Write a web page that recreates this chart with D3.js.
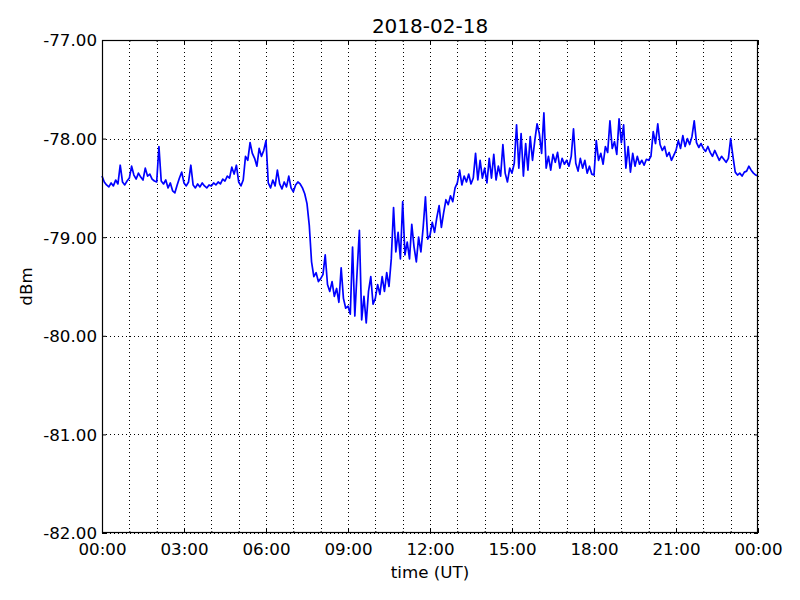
<!DOCTYPE html>
<html>
<head>
<meta charset="utf-8">
<script src="https://cdn.jsdelivr.net/npm/d3@7"></script>
<style>
  body { margin: 0; background: #fff; }
  text { font-family: "DejaVu Sans", sans-serif; fill: #000; }
</style>
</head>
<body>
<script>
// chart text
var title = "2018-02-18";
var xLabel = "time (UT)";
var yLabel = "dBm";

// y ticks and x tick labels (every 3 hours)
var yTicks = [-82, -81, -80, -79, -78, -77];
var xTickLabels = ["00:00", "03:00", "06:00", "09:00", "12:00", "15:00", "18:00", "21:00", "00:00"];

// signal level in dBm, one reading every 5 minutes from 00:00 UT
var startTime = new Date(Date.UTC(2018, 1, 18, 0, 0));
var stepMinutes = 5;
var dbm = [
  -78.38, -78.44, -78.47, -78.49, -78.45, -78.48, -78.42, -78.46, -78.27, -78.44, -78.47, -78.43,
  -78.40, -78.28, -78.37, -78.41, -78.35, -78.39, -78.42, -78.30, -78.38, -78.36, -78.41, -78.43,
  -78.44, -78.08, -78.43, -78.46, -78.42, -78.50, -78.45, -78.53, -78.55, -78.47, -78.40, -78.34,
  -78.45, -78.48, -78.44, -78.27, -78.47, -78.50, -78.46, -78.49, -78.45, -78.48, -78.50, -78.47,
  -78.48, -78.45, -78.47, -78.44, -78.46, -78.41, -78.43, -78.38, -78.40, -78.29, -78.36, -78.27,
  -78.44, -78.48, -78.42, -78.18, -78.22, -78.04, -78.15, -78.20, -78.28, -78.10, -78.18, -78.12,
  -78.02, -78.45, -78.50, -78.42, -78.48, -78.32, -78.46, -78.51, -78.44, -78.49, -78.38, -78.50,
  -78.54, -78.47, -78.44, -78.46, -78.50, -78.56, -78.66, -78.88, -79.25, -79.40, -79.36, -79.45,
  -79.42, -79.38, -79.18, -79.48, -79.55, -79.45, -79.60, -79.52, -79.66, -79.31, -79.62, -79.72,
  -79.70, -79.78, -79.10, -79.80, -79.35, -78.93, -79.84, -79.60, -79.87, -79.55, -79.40, -79.68,
  -79.62, -79.48, -79.58, -79.40, -79.55, -79.36, -79.50, -79.22, -78.70, -79.15, -78.95, -79.22,
  -78.64, -79.18, -79.05, -79.22, -78.87, -79.10, -79.25, -79.00, -79.15, -78.90, -78.59, -79.02,
  -78.98, -78.85, -78.95, -78.80, -78.68, -78.90, -78.75, -78.62, -78.67, -78.58, -78.64, -78.50,
  -78.45, -78.32, -78.47, -78.38, -78.44, -78.36, -78.46, -78.40, -78.15, -78.42, -78.22, -78.40,
  -78.30, -78.45, -78.20, -78.40, -78.16, -78.42, -78.28, -78.38, -78.06, -78.35, -78.44, -78.30,
  -78.35, -78.25, -77.86, -78.30, -77.95, -78.38, -78.05, -78.32, -77.98, -78.22, -78.02, -77.85,
  -77.95, -78.15, -77.74, -78.30, -78.18, -78.32, -78.16, -78.24, -78.14, -78.30, -78.20, -78.26,
  -78.22, -78.28, -78.18, -77.90, -78.25, -78.33, -78.20, -78.30, -78.22, -78.35, -78.28, -78.36,
  -78.37, -78.02, -78.22, -78.15, -78.26, -78.08, -78.14, -77.82, -78.10, -78.03, -78.16, -77.80,
  -78.04, -77.86, -78.30, -78.08, -78.34, -78.15, -78.28, -78.18, -78.26, -78.22, -78.27, -78.21,
  -78.22, -78.18, -77.93, -78.05, -77.85, -78.06, -78.12, -78.08, -78.18, -78.14, -78.22, -78.17,
  -78.12, -78.02, -78.10, -77.97, -78.08, -78.00, -78.06, -77.98, -77.82, -78.04, -78.09, -78.05,
  -78.10, -78.13, -78.08, -78.14, -78.18, -78.12, -78.17, -78.22, -78.18, -78.21, -78.24, -78.20,
  -78.00, -78.18, -78.34, -78.37, -78.35, -78.38, -78.34, -78.33, -78.28, -78.32, -78.35, -78.37,
  -78.38
];

var data = dbm.map((v, i) => ({
  date: new Date(startTime.getTime() + i * stepMinutes * 60000),
  value: v,
}));

var margin = { top: 40, left: 102, bottom: 67, right: 42 };
var width = 800 - margin.left - margin.right;
var height = 600 - margin.top - margin.bottom;

var endTime = new Date(startTime.getTime() + 24 * 3600000);
var x = d3.scaleUtc().domain([startTime, endTime]).range([0, width]);
var y = d3.scaleLinear().domain([-82, -77]).range([height, 0]);

var hourTicks = d3.utcHour.every(1).range(startTime, new Date(endTime.getTime() + 1));
var majorTicks = d3.utcHour.every(3).range(startTime, new Date(endTime.getTime() + 1));

var svg = d3.select("body").append("svg")
  .attr("width", 800)
  .attr("height", 600);

svg.append("rect").attr("width", 800).attr("height", 600).attr("fill", "#fff");

var chart = svg.append("g")
  .attr("transform", `translate(${margin.left},${margin.top})`);

// dotted grid: every hour on x, every dBm on y
chart.append("g")
  .selectAll("line")
  .data(hourTicks)
  .join("line")
  .attr("x1", (d) => Math.round(x(d)) + 0.5)
  .attr("x2", (d) => Math.round(x(d)) + 0.5)
  .attr("y1", 0)
  .attr("y2", height)
  .attr("stroke", "#000")
  .attr("stroke-width", 1)
  .attr("stroke-dasharray", "1,3");

chart.append("g")
  .selectAll("line")
  .data(yTicks)
  .join("line")
  .attr("x1", 0)
  .attr("x2", width)
  .attr("y1", (d) => Math.round(y(d)) + 0.5)
  .attr("y2", (d) => Math.round(y(d)) + 0.5)
  .attr("stroke", "#000")
  .attr("stroke-width", 1)
  .attr("stroke-dasharray", "1,3");

// the signal line
var line = d3.line()
  .x((d) => x(d.date))
  .y((d) => y(d.value));

chart.append("path")
  .datum(data)
  .attr("fill", "none")
  .attr("stroke", "#0000ff")
  .attr("stroke-width", 1.7)
  .attr("stroke-linejoin", "round")
  .attr("d", line);

// axes with inward ticks, on all four sides
var fmt = (d, i) => xTickLabels[i];
var yFmt = (d) => d.toFixed(2); // plain hyphen, like the original

var bottom = chart.append("g")
  .attr("transform", `translate(0,${height})`)
  .call(d3.axisBottom(x).tickValues(majorTicks).tickFormat(fmt).tickSizeInner(-4).tickSizeOuter(0).tickPadding(10));
chart.append("g")
  .attr("transform", `translate(0,${height})`)
  .call(d3.axisBottom(x).tickValues(hourTicks).tickFormat("").tickSizeInner(-2).tickSizeOuter(0));
chart.append("g")
  .call(d3.axisTop(x).tickValues(majorTicks).tickFormat("").tickSizeInner(-4).tickSizeOuter(0));
chart.append("g")
  .call(d3.axisTop(x).tickValues(hourTicks).tickFormat("").tickSizeInner(-2).tickSizeOuter(0));

var left = chart.append("g")
  .call(d3.axisLeft(y).tickValues(yTicks).tickFormat(yFmt).tickSizeInner(-4).tickSizeOuter(0).tickPadding(5));
chart.append("g")
  .attr("transform", `translate(${width},0)`)
  .call(d3.axisRight(y).tickValues(yTicks).tickFormat("").tickSizeInner(-4).tickSizeOuter(0));

chart.selectAll(".domain").remove();
chart.selectAll(".tick line").attr("stroke", "#000");
bottom.selectAll("text").attr("font-size", 16.7).attr("font-family", "DejaVu Sans");
left.selectAll("text").attr("font-size", 16.7).attr("font-family", "DejaVu Sans").attr("dy", "0.35em");

// frame
chart.append("rect")
  .attr("x", 0.5)
  .attr("y", 0.5)
  .attr("width", width - 1)
  .attr("height", height - 1)
  .attr("fill", "none")
  .attr("stroke", "#000")
  .attr("stroke-width", 1.2);

// title and labels
svg.append("text")
  .attr("x", margin.left + width / 2)
  .attr("y", 33)
  .attr("text-anchor", "middle")
  .attr("font-size", 20)
  .text(title);

svg.append("text")
  .attr("x", margin.left + width / 2)
  .attr("y", 578)
  .attr("text-anchor", "middle")
  .attr("font-size", 16.7)
  .text(xLabel);

svg.append("text")
  .attr("transform", `translate(32,${margin.top + height / 2}) rotate(-90)`)
  .attr("text-anchor", "middle")
  .attr("font-size", 16.7)
  .text(yLabel);
</script>
</body>
</html>
